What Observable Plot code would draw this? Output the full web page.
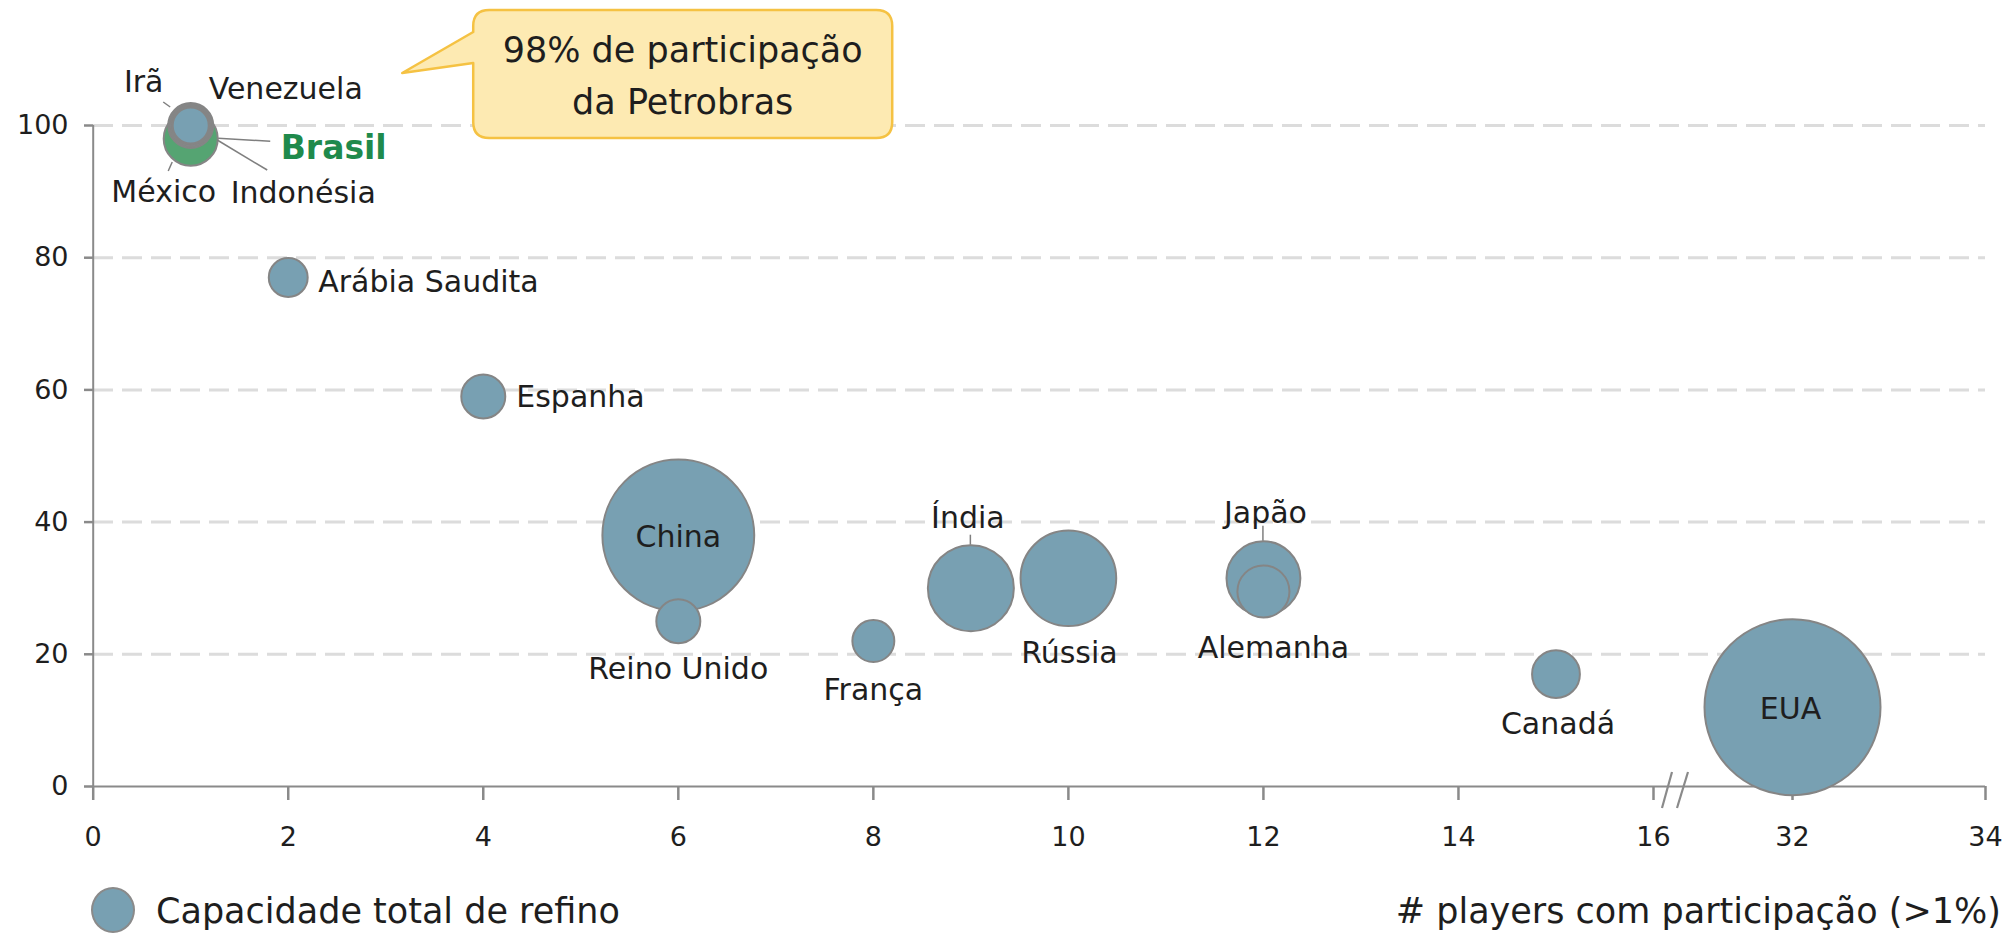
<!DOCTYPE html>
<html>
<head>
<meta charset="utf-8">
<script src="https://cdn.jsdelivr.net/npm/d3@7"></script>
<script src="https://cdn.jsdelivr.net/npm/@observablehq/plot@0.6"></script>
<style>
  html, body { margin: 0; padding: 0; background: #ffffff; }
  #wrap { position: relative; width: 2009px; height: 934px; overflow: hidden;
          font-family: "DejaVu Sans", sans-serif; color: #1e1e1e; }
  #legend { position: absolute; left: 0; top: 860px; width: 2009px; height: 74px; }
  #legend .sw { position: absolute; left: 91px; top: 27px; width: 44px; height: 46px; border-radius: 50%;
                background: #78a0b2; border: 2px solid #8a8a8a; box-sizing: border-box; }
  #legend .t1 { position: absolute; left: 156px; top: 51px; transform: translateY(-50%); font-size: 35px; white-space: nowrap; }
  #legend .t2 { position: absolute; right: 8px; top: 51px; transform: translateY(-50%); font-size: 35px; white-space: nowrap; }
</style>
</head>
<body>
<div id="wrap"><div id="chart"></div><div id="legend"></div></div>
<script>
// ---- data ----
const countries = ["Irã", "Venezuela", "México", "Indonésia", "Brasil", "Arábia Saudita", "Espanha", "China",
                   "Reino Unido", "França", "Índia", "Rússia", "Japão", "Alemanha", "Canadá", "EUA"];
const players   = [1, 1, 1, 1, 1, 2, 4, 6, 6, 8, 9, 10, 12, 12, 15, 32];          // # players com participação (>1%)
const share     = [100, 100, 100, 100, 98, 77, 59, 38, 25, 22, 30, 31.5, 31.5, 29.5, 17, 12]; // % maior player
const capacity  = [1.0, 0.86, 1.15, 0.74, 1.66, 0.86, 1.1, 13.1, 1.1, 1.0, 4.2, 5.2, 3.1, 1.54, 1.3, 17.6]; // capacidade de refino
const xTicks = [0, 2, 4, 6, 8, 10, 12, 14, 16, 32, 34];
const yTicks = [0, 20, 40, 60, 80, 100];
const legendLabel = "Capacidade total de refino";
const xAxisTitle = "# players com participação (>1%)";
const calloutLines = ["98% de participação", "da Petrobras"];
const highlight = "Brasil";

const data = countries.map((c, i) => ({country: c, players: players[i], share: share[i], capacity: capacity[i]}));

// ---- styles ----
const FONT = '"DejaVu Sans", sans-serif';
const BLUE = "#78a0b2", GREEN = "#55a472", STROKE = "#858585", TEXT = "#1e1e1e";

// label placement (pixel offsets from each bubble)
const place = {
  "Irã":            {dx: -47, dy: -43, anchor: "middle"},
  "Venezuela":      {dx: 18,  dy: -36, anchor: "start"},
  "México":         {dx: -27, dy: 67,  anchor: "middle"},
  "Indonésia":      {dx: 40,  dy: 68,  anchor: "start"},
  "Brasil":         {dx: 90,  dy: 10,  anchor: "start"},
  "Arábia Saudita": {dx: 30,  dy: 5,   anchor: "start"},
  "Espanha":        {dx: 33,  dy: 1,   anchor: "start"},
  "China":          {dx: 0,   dy: 2,   anchor: "middle"},
  "Reino Unido":    {dx: 0,   dy: 48,  anchor: "middle"},
  "França":         {dx: 0,   dy: 49,  anchor: "middle"},
  "Índia":          {dx: -3,  dy: -70, anchor: "middle"},
  "Rússia":         {dx: 1,   dy: 75,  anchor: "middle"},
  "Japão":          {dx: 2,   dy: -65, anchor: "middle"},
  "Alemanha":       {dx: 10,  dy: 57,  anchor: "middle"},
  "Canadá":         {dx: 2,   dy: 50,  anchor: "middle"},
  "EUA":            {dx: -2,  dy: 2,   anchor: "middle"}
};
// leader lines (pixel offsets from bubble centre)
const leaders = {
  "Irã":       [[-27, -23], [-20, -18]],
  "México":    [[-18, 37], [-22, 46]],
  "Brasil":    [[28, 0], [80, 3]],
  "Indonésia": [[27, 15], [77, 45]],
  "Índia":     [[0, -53], [0, -43]],
  "Japão":     [[0, -52], [0, -37]]
};

const svgNS = "http://www.w3.org/2000/svg";
function el(name, attrs) {
  const e = document.createElementNS(svgNS, name);
  for (const k in attrs) e.setAttribute(k, attrs[k]);
  return e;
}

// leader lines mark
function leaderMark(index, scales) {
  const g = el("g", {stroke: "#7f7f7f", "stroke-width": 1.5, fill: "none"});
  for (const d of data) {
    const L = leaders[d.country];
    if (!L) continue;
    const cx = scales.x(d.players), cy = scales.y(d.share);
    g.appendChild(el("line", {x1: cx + L[0][0], y1: cy + L[0][1], x2: cx + L[1][0], y2: cy + L[1][1]}));
  }
  return g;
}

// axis break "//" between 16 and 32
function breakMark(index, scales) {
  const g = el("g", {stroke: "#8a8a8a", "stroke-width": 2.2, fill: "none"});
  const x0 = scales.x(16) + 10, y0 = scales.y(0);
  g.appendChild(el("line", {x1: x0 - 1, y1: y0 + 22, x2: x0 + 9, y2: y0 - 14}));
  g.appendChild(el("line", {x1: x0 + 14, y1: y0 + 22, x2: x0 + 25, y2: y0 - 14}));
  return g;
}

// callout bubble pointing at Brasil
function calloutMark(index, scales) {
  const g = el("g", {});
  const bx = scales.x(1), by = scales.y(100);
  const tipX = bx + 212, tipY = by - 52;
  const L = tipX + 71, R = L + 419, T = 10, B = 138, rr = 16;
  const t1 = 32, t2 = 63;
  const p = `M${L + rr},${T} H${R - rr} Q${R},${T} ${R},${T + rr} V${B - rr} Q${R},${B} ${R - rr},${B} H${L + rr} Q${L},${B} ${L},${B - rr} V${t2} L${tipX},${tipY} L${L},${t1} V${T + rr} Q${L},${T} ${L + rr},${T} Z`;
  g.appendChild(el("path", {d: p, fill: "#fdeab2", stroke: "#f5c243", "stroke-width": 2.5, "stroke-linejoin": "round"}));
  calloutLines.forEach((s, i) => {
    const t = el("text", {x: (L + R) / 2, y: 50 + i * 52, "text-anchor": "middle", "dominant-baseline": "central",
      "font-size": 35, fill: TEXT, "font-family": FONT});
    t.textContent = s;
    g.appendChild(t);
  });
  return g;
}

const labelMarks = data.map(d => {
  const p = place[d.country];
  const isHi = d.country === highlight;
  return Plot.text([d], {
    x: "players", y: "share", text: "country",
    dx: p.dx, dy: p.dy, textAnchor: p.anchor,
    fill: isHi ? "#1f8a4c" : TEXT,
    fontSize: isHi ? 33 : 30,
    fontWeight: isHi ? "bold" : "normal"
  });
});

const chart = Plot.plot({
  width: 2009,
  height: 860,
  marginTop: 125,
  marginBottom: 74,
  marginLeft: 93,
  marginRight: 24,
  style: {fontFamily: FONT, fontSize: "27px", color: TEXT, background: "transparent", overflow: "visible"},
  x: {type: "linear", domain: [0, 16, 32, 34], range: [92.7, 1653, 1792, 1985],
      ticks: xTicks, tickSize: 14, tickPadding: 26, tickFormat: d => String(d), label: null},
  y: {domain: [0, 100], range: [786, 125], ticks: yTicks, tickSize: 9, tickPadding: 16, tickFormat: d => String(d), label: null},
  r: {type: "sqrt", domain: [0, 17.6], range: [0, 88]},
  marks: [
    Plot.ruleY(yTicks.filter(v => v > 0), {stroke: "#dcdcdc", strokeWidth: 3, strokeDasharray: "20,9"}),
    Plot.ruleX([0], {y1: 0, y2: 100, stroke: "#8a8a8a", strokeWidth: 2}),
    Plot.ruleY([0], {stroke: "#8a8a8a", strokeWidth: 2}),
    breakMark,
    Plot.dot(data, {x: "players", y: "share", r: "capacity",
      fill: d => d.country === highlight ? GREEN : BLUE,
      stroke: STROKE, strokeWidth: 2}),
    leaderMark,
    ...labelMarks,
    calloutMark
  ]
});
document.getElementById("chart").appendChild(chart);
// style axis ticks colour
d3.select(chart).selectAll("[aria-label='x-axis'] path, [aria-label='y-axis'] path, [aria-label='x-axis tick'] path, [aria-label='y-axis tick'] path")
  .attr("stroke", "#8a8a8a").attr("stroke-width", 2.5);

const legend = document.getElementById("legend");
legend.innerHTML = `<div class="sw"></div><div class="t1"></div><div class="t2"></div>`;
legend.querySelector(".t1").textContent = legendLabel;
legend.querySelector(".t2").textContent = xAxisTitle;
</script>
</body>
</html>
